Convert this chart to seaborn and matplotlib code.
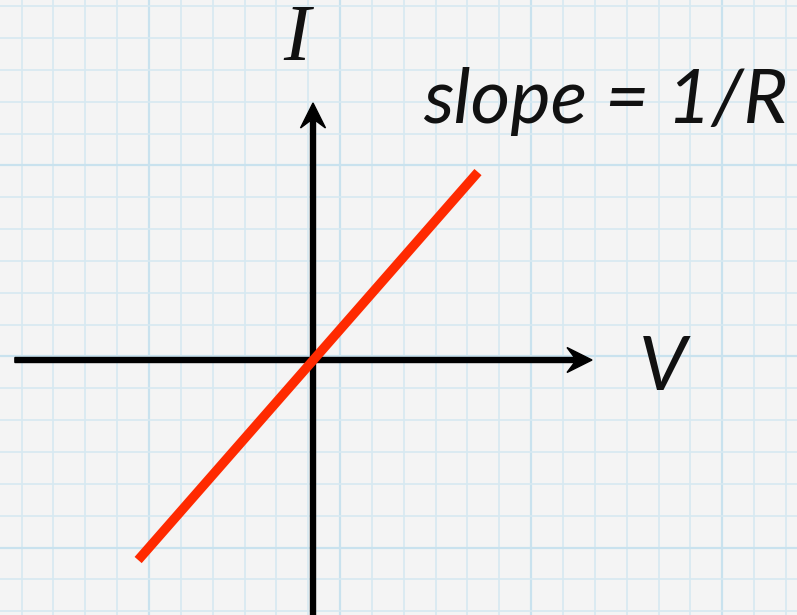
import numpy as np
import pandas as pd
import matplotlib
matplotlib.use("Agg")
import matplotlib.pyplot as plt
import seaborn as sns

# ---- data (grid units, origin at the axes crossing) ----
V = [-5.49, 5.18]          # voltage at the ends of the red line
I = [-6.28, 5.90]          # current at the ends of the red line
x_axis_span = [-9.36, 8.76]   # horizontal axis from / to (arrow tip)
y_axis_span = [-8.30, 8.07]   # vertical axis from / to (arrow tip)
label_I = "I"
label_V = "V"
label_slope = "slope = 1/R"

UNIT = 31.85  # pixels per grid unit
W, H = 797, 615
ox, oy = 313, 360  # pixel position of the origin

sns.set_theme(style="white")
plt.rcParams['font.family'] = ['DejaVu Sans']

fig = plt.figure(figsize=(W / 100, H / 100), dpi=100)
ax = fig.add_axes([0, 0, 1, 1])
bg = "#f4f4f4"
fig.patch.set_facecolor(bg)
ax.set_facecolor(bg)
xmin, xmax = -ox / UNIT, (W - ox) / UNIT
ymin, ymax = -(H - oy) / UNIT, oy / UNIT
ax.set_xlim(xmin, xmax)
ax.set_ylim(ymin, ymax)
for s in ax.spines.values():
    s.set_visible(False)
ax.set_xticks([])
ax.set_yticks([])

# graph-paper grid
gx0 = -0.15
gy0 = 0.11
for gx in np.arange(gx0 - 12, xmax + 1, 1.0):
    major = (round(gx - gx0) % 6 == 1)
    ax.axvline(gx, color="#c9e2ee" if major else "#d7e9f1",
               lw=1.6 if major else 1.2, zorder=0)
for gy in np.arange(gy0 - 12, ymax + 1, 1.0):
    major = (round(gy - gy0) % 6 == 0)
    ax.axhline(gy, color="#c9e2ee" if major else "#d7e9f1",
               lw=1.6 if major else 1.2, zorder=0)

# axes with arrows
shaft = 5 / UNIT
hw = 25 / UNIT
hl = 25 / UNIT
ax.arrow(x_axis_span[0], 0, x_axis_span[1] - x_axis_span[0], 0,
         width=shaft, head_width=hw, head_length=hl, overhang=0.3,
         length_includes_head=True, color="black", zorder=3)
ax.arrow(0, y_axis_span[0], 0, y_axis_span[1] - y_axis_span[0],
         width=shaft, head_width=hw, head_length=hl, overhang=0.3,
         length_includes_head=True, color="black", zorder=3)

# red I-V line
df = pd.DataFrame({"V": V, "I": I})
sns.lineplot(data=df, x="V", y="I", color="#ff2a00", lw=6.8, ax=ax,
             zorder=4, solid_capstyle="butt")
ax.set_xlabel("")
ax.set_ylabel("")

ax.text((297 - ox) / UNIT, (oy - 40) / UNIT, label_I, family="Liberation Serif",
        style="italic", fontsize=58, ha="center", va="center", color="#111111")
ax.text((663 - ox) / UNIT, (oy - 369) / UNIT, label_V, family="Lato",
        style="italic", fontsize=55, ha="center", va="center", color="#111111")
ax.text((605 - ox) / UNIT, (oy - 123) / UNIT, label_slope, family="Lato",
        style="italic", fontsize=55, ha="center", va="baseline", color="#111111")

fig.savefig("out.png", dpi=100, facecolor=bg)
